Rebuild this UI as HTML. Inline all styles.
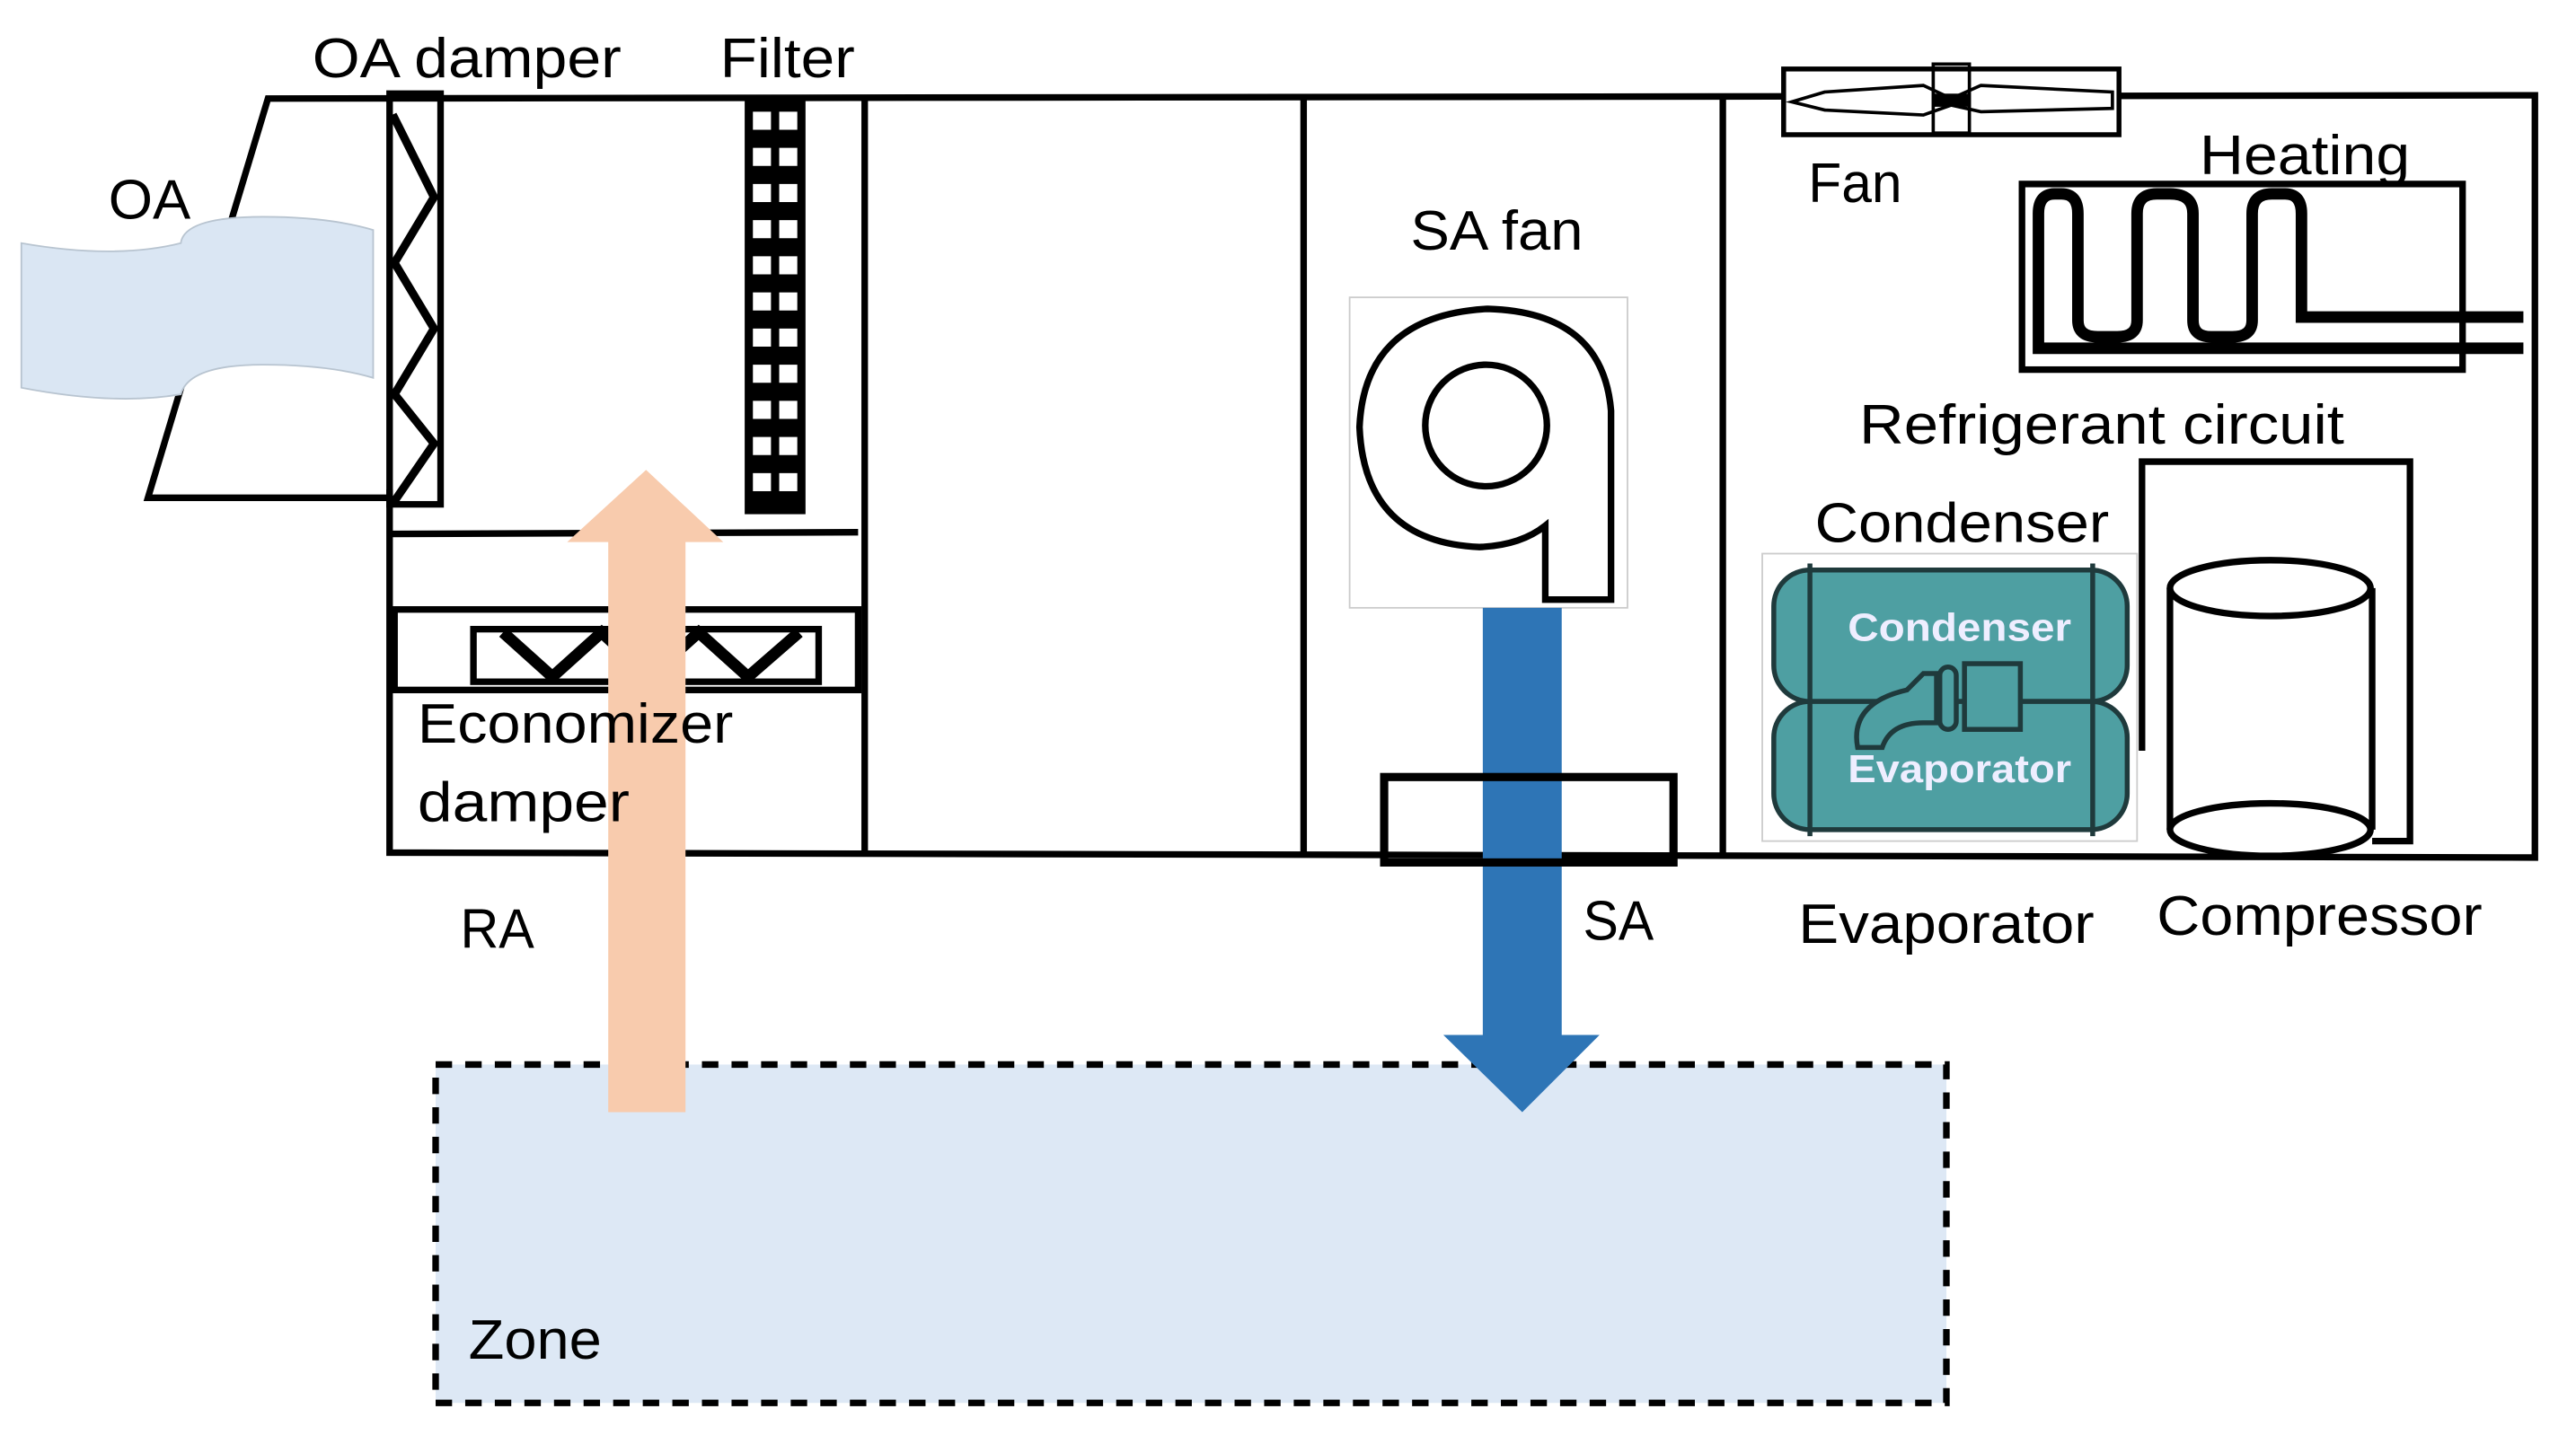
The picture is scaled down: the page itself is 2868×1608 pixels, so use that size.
<!DOCTYPE html>
<html><head><meta charset="utf-8"><style>
html,body{margin:0;padding:0;background:#fff;}
svg{display:block;}
text{font-family:"Liberation Sans",sans-serif;fill:#000;}
</style></head><body>
<svg width="2868" height="1608" viewBox="0 0 1567 879" preserveAspectRatio="none" xmlns="http://www.w3.org/2000/svg">
<rect width="1567" height="879" fill="#fff"/>
<!-- Zone -->
<rect x="265" y="648" width="919" height="206" fill="#dde8f5" stroke="#000" stroke-width="4" stroke-dasharray="10 8"/>
<!-- unit outline -->
<g stroke="#000" stroke-width="4" fill="none" stroke-linecap="square">
<polyline points="237,303 90,303 163,60 1542,58 1542,522 237,519 237,300"/>
<line x1="526" y1="60" x2="526" y2="519"/>
<line x1="793" y1="60" x2="793" y2="519"/>
<line x1="1048" y1="59" x2="1048" y2="520"/>
<line x1="240" y1="325" x2="520" y2="324"/>
<rect x="240" y="371" width="282" height="49"/>
<rect x="288" y="383" width="210" height="32"/>
<polyline points="306,385 336,412 366,385 395,412 425,385 455,412 486,385" stroke-width="7" stroke-linecap="butt"/>
<!-- OA damper -->
<rect x="237" y="57" width="31" height="250"/>
<polyline points="240,72 264,120 240,160 264,200 240,240 264,270 240,305" stroke-width="5"/>
</g>
<!-- OA cloud -->
<path d="M13,148 Q70,158 110,148 Q112,132 160,132 Q200,132 227,140 L227,230 Q200,222 160,222 Q115,222 110,240 Q70,247 13,236 Z" fill="#dae6f3" stroke="#b8c4d0" stroke-width="1"/>
<!-- Filter -->
<rect x="453" y="60" width="37" height="253" fill="#000"/>
<g fill="#fff">
<rect x="458" y="68" width="11" height="11"/><rect x="474" y="68" width="11" height="11"/>
<rect x="458" y="90" width="11" height="11"/><rect x="474" y="90" width="11" height="11"/>
<rect x="458" y="112" width="11" height="11"/><rect x="474" y="112" width="11" height="11"/>
<rect x="458" y="134" width="11" height="11"/><rect x="474" y="134" width="11" height="11"/>
<rect x="458" y="156" width="11" height="11"/><rect x="474" y="156" width="11" height="11"/>
<rect x="458" y="178" width="11" height="11"/><rect x="474" y="178" width="11" height="11"/>
<rect x="458" y="200" width="11" height="11"/><rect x="474" y="200" width="11" height="11"/>
<rect x="458" y="222" width="11" height="11"/><rect x="474" y="222" width="11" height="11"/>
<rect x="458" y="244" width="11" height="11"/><rect x="474" y="244" width="11" height="11"/>
<rect x="458" y="266" width="11" height="11"/><rect x="474" y="266" width="11" height="11"/>
<rect x="458" y="288" width="11" height="11"/><rect x="474" y="288" width="11" height="11"/>
</g>
<!-- RA arrow -->
<path d="M370,677 L370,330 L345,330 L393,286 L440,330 L417,330 L417,677 Z" fill="#f8cbad"/>
<!-- SA fan -->
<rect x="821" y="181" width="169" height="189" fill="#fff" stroke="#ccc" stroke-width="1"/>
<path d="M940,365 L980,365 L980,250 Q975,190 905,188 Q830,192 827,260 Q830,330 900,333 Q925,332 940,320 Z" fill="none" stroke="#000" stroke-width="4"/>
<circle cx="904" cy="259" r="37" fill="none" stroke="#000" stroke-width="4"/>
<!-- SA arrow -->
<path d="M902,370 L950,370 L950,630 L973,630 L926,677 L878,630 L902,630 Z" fill="#2e75b6"/>
<rect x="842" y="473" width="176" height="52" fill="none" stroke="#000" stroke-width="5"/>
<!-- top fan -->
<rect x="1085" y="42" width="204" height="40" fill="#fff" stroke="#000" stroke-width="3"/>
<path d="M1090,62 L1110,56 L1170,52 L1187,60 L1205,52 L1285,56 L1285,66 L1205,68 L1187,64 L1170,70 L1110,67 Z" fill="none" stroke="#000" stroke-width="2"/>
<rect x="1176" y="39" width="22" height="42" fill="none" stroke="#000" stroke-width="2"/>
<rect x="1176" y="57" width="22" height="8" fill="#000"/>
<!-- Heating -->
<rect x="1230" y="112" width="268" height="113" fill="none" stroke="#000" stroke-width="4"/>
<path d="M1535,193 L1400,193 L1400,130 Q1400,118 1390,118 L1382,118 Q1370,118 1370,130 L1370,195 Q1370,205 1358,205 L1345,205 Q1334,205 1334,195 L1334,130 Q1334,118 1320,118 L1312,118 Q1300,118 1300,130 L1300,195 Q1300,205 1288,205 L1276,205 Q1264,205 1264,195 L1264,130 Q1264,118 1254,118 L1250,118 Q1240,118 1240,130 L1240,212 L1535,212" fill="none" stroke="#000" stroke-width="7"/>
<!-- Compressor wire & cylinder -->
<polyline points="1303,457 1303,281 1466,281 1466,512 1443,512" fill="none" stroke="#000" stroke-width="4"/>
<path d="M1320,358 L1320,505 M1443,358 L1443,505" stroke="#000" stroke-width="4"/>
<ellipse cx="1381" cy="358" rx="61" ry="17" fill="#fff" stroke="#000" stroke-width="4"/>
<ellipse cx="1381" cy="505" rx="61" ry="16" fill="#fff" stroke="#000" stroke-width="4"/>
<!-- Condenser/Evaporator image -->
<rect x="1072" y="337" width="228" height="175" fill="#fff" stroke="#ccc" stroke-width="1"/>
<g stroke="#1f3a3c" stroke-width="3" fill="#4e9fa2">
<rect x="1079" y="347" width="215" height="80" rx="22"/>
<rect x="1079" y="427" width="215" height="78" rx="22"/>
<line x1="1101" y1="343" x2="1101" y2="509"/>
<line x1="1273" y1="343" x2="1273" y2="509"/>
<path d="M1130,455 Q1125,428 1160,420 L1170,410 L1178,410 L1178,440 L1170,440 Q1150,440 1145,455 Z"/>
<rect x="1180" y="406" width="10" height="38" rx="5"/>
<rect x="1195" y="404" width="34" height="40"/>
</g>
<text x="1124" y="390" font-size="24" font-weight="bold" style="fill:#eef" textLength="136" lengthAdjust="spacingAndGlyphs">Condenser</text>
<text x="1124" y="476" font-size="24" font-weight="bold" style="fill:#eef" textLength="136" lengthAdjust="spacingAndGlyphs">Evaporator</text>
<!-- labels -->
<g font-size="34">
<text x="190" y="47" textLength="188" lengthAdjust="spacingAndGlyphs">OA damper</text>
<text x="438" y="47" textLength="82" lengthAdjust="spacingAndGlyphs">Filter</text>
<text x="66" y="133" textLength="50" lengthAdjust="spacingAndGlyphs">OA</text>
<text x="254" y="452" textLength="192" lengthAdjust="spacingAndGlyphs">Economizer</text>
<text x="254" y="500" textLength="129" lengthAdjust="spacingAndGlyphs">damper</text>
<text x="280" y="577" textLength="45" lengthAdjust="spacingAndGlyphs">RA</text>
<text x="858" y="152" textLength="105" lengthAdjust="spacingAndGlyphs">SA fan</text>
<text x="1100" y="123" textLength="57" lengthAdjust="spacingAndGlyphs">Fan</text>
<text x="1338" y="106" textLength="128" lengthAdjust="spacingAndGlyphs">Heating</text>
<text x="1131" y="270" textLength="295" lengthAdjust="spacingAndGlyphs">Refrigerant circuit</text>
<text x="1104" y="330" textLength="179" lengthAdjust="spacingAndGlyphs">Condenser</text>
<text x="963" y="572" textLength="43" lengthAdjust="spacingAndGlyphs">SA</text>
<text x="1094" y="574" textLength="180" lengthAdjust="spacingAndGlyphs">Evaporator</text>
<text x="1312" y="569" textLength="198" lengthAdjust="spacingAndGlyphs">Compressor</text>
<text x="285" y="827" textLength="81" lengthAdjust="spacingAndGlyphs">Zone</text>
</g>
</svg>
</body></html>
